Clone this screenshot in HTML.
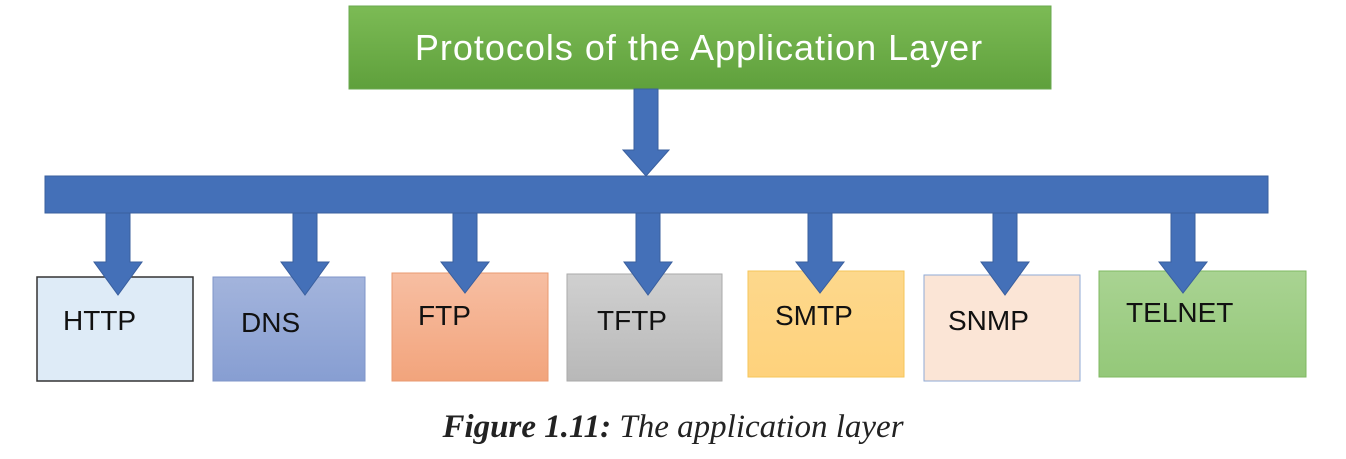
<!DOCTYPE html>
<html><head><meta charset="utf-8"><style>
html,body{margin:0;padding:0;background:#fff;}
svg{display:block}
</style></head><body>
<svg width="1346" height="459" viewBox="0 0 1346 459" xmlns="http://www.w3.org/2000/svg">
<defs>
<linearGradient id="g" x1="0" y1="0" x2="0" y2="1"><stop offset="0" stop-color="#7cbb55"/><stop offset="1" stop-color="#5fa03c"/></linearGradient>
<linearGradient id="dns" x1="0" y1="0" x2="0" y2="1"><stop offset="0" stop-color="#a3b4dc"/><stop offset="1" stop-color="#879ed2"/></linearGradient>
<linearGradient id="ftp" x1="0" y1="0" x2="0" y2="1"><stop offset="0" stop-color="#f7bea2"/><stop offset="1" stop-color="#f2a47c"/></linearGradient>
<linearGradient id="tftp" x1="0" y1="0" x2="0" y2="1"><stop offset="0" stop-color="#d0d0d0"/><stop offset="1" stop-color="#b8b8b8"/></linearGradient>
<linearGradient id="smtp" x1="0" y1="0" x2="0" y2="1"><stop offset="0" stop-color="#fdd88c"/><stop offset="1" stop-color="#fed27c"/></linearGradient>
<linearGradient id="tel" x1="0" y1="0" x2="0" y2="1"><stop offset="0" stop-color="#a9d392"/><stop offset="1" stop-color="#94c879"/></linearGradient>
</defs>
<rect x="349" y="6" width="702" height="83" fill="url(#g)" stroke="#6aa84f"/>
<text x="699" y="60" text-anchor="middle" font-family="Liberation Sans, sans-serif" font-size="36" letter-spacing="1" fill="#fff">Protocols of the Application Layer</text>
<polygon points="634,89 658,89 658,150 669,150 646,176 623,150 634,150" fill="#4470b8" stroke="#3a5f9e"/>
<rect x="45" y="176" width="1223" height="37" fill="#4470b8" stroke="#3a5f9e"/>
<rect x="37" y="277" width="156" height="104" fill="#deebf7" stroke="#333" stroke-width="1.5"/>
<rect x="213" y="277" width="152" height="104" fill="url(#dns)" stroke="#7f95c8"/>
<rect x="392" y="273" width="156" height="108" fill="url(#ftp)" stroke="#e89a70"/>
<rect x="567" y="274" width="155" height="107" fill="url(#tftp)" stroke="#aaa"/>
<rect x="748" y="271" width="156" height="106" fill="url(#smtp)" stroke="#f5c65a"/>
<rect x="924" y="275" width="156" height="106" fill="#fbe5d6" stroke="#8faad6"/>
<rect x="1099" y="271" width="207" height="106" fill="url(#tel)" stroke="#7fb861"/>
<g fill="#4470b8" stroke="#3a5f9e">
<polygon points="106,213 130,213 130,262 142,262 118,295 94,262 106,262"/>
<polygon points="293,213 317,213 317,262 329,262 305,295 281,262 293,262"/>
<polygon points="453,213 477,213 477,262 489,262 465,293 441,262 453,262"/>
<polygon points="636,213 660,213 660,262 672,262 648,295 624,262 636,262"/>
<polygon points="808,213 832,213 832,262 844,262 820,293 796,262 808,262"/>
<polygon points="993,213 1017,213 1017,262 1029,262 1005,295 981,262 993,262"/>
<polygon points="1171,213 1195,213 1195,262 1207,262 1183,293 1159,262 1171,262"/>
</g>
<g font-family="Liberation Sans, sans-serif" font-size="28" fill="#111">
<text x="63" y="330">HTTP</text>
<text x="241" y="332">DNS</text>
<text x="418" y="325">FTP</text>
<text x="597" y="330">TFTP</text>
<text x="775" y="325">SMTP</text>
<text x="948" y="330">SNMP</text>
<text x="1126" y="322">TELNET</text>
</g>
<text x="673" y="437" text-anchor="middle" font-family="Liberation Serif, serif" font-size="33" font-style="italic" fill="#222"><tspan font-weight="bold">Figure 1.11:</tspan> The application layer</text>
</svg>
</body></html>
